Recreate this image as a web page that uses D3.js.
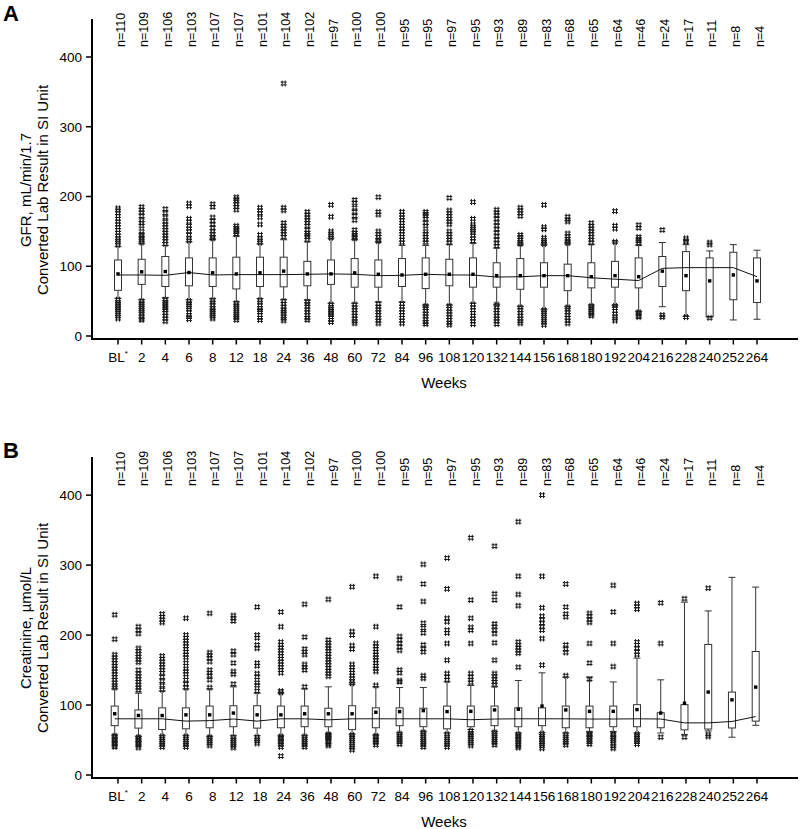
<!DOCTYPE html>
<html>
<head>
<meta charset="utf-8">
<script src="https://cdn.jsdelivr.net/npm/d3@7"></script>
<style>
  html, body { margin: 0; padding: 0; background: #fff; }
  svg { display: block; font-family: "Liberation Sans", Arial, sans-serif; }
</style>
</head>
<body>
<svg id="chart" width="800" height="829"></svg>
<script>
// ---------- data ----------
const weeks = ["BL","2","4","6","8","12","18","24","36","48","60","72","84","96","108","120","132","144","156","168","180","192","204","216","228","240","252","264"];
const nCounts = [110,109,106,103,107,107,101,104,102,97,100,100,95,95,97,95,93,89,83,68,65,64,46,24,17,11,8,4];
const yTicks = [0,100,200,300,400];

// Panel A: GFR
const gfrQ1     = [65.5,74,71,72,71,67.5,71,70.5,72,74,70,70,71,68,72,70,70,67,70,65,69,70,69,71,65,28,52,48];
const gfrMedian = [87.5,87.5,87,91,87.5,88,88,88,88.5,89,88.5,86.5,87,88.5,87.5,87.5,84.5,85,86.5,86.5,83.5,81.5,79.5,97,98,98,98,85];
const gfrQ3     = [109,110,114,112,112,113,113,113,107,109,111,109,111,112,110,112,105,111,105,103,105,107,112,114,121,112,120,112];
const gfrMean   = [89,92,92.5,91,90.6,89,90.6,93,89,89,90.5,88.5,87.5,88.5,88.5,88.5,86.5,86.5,86.5,86.5,85,86.5,85,93,86.5,79,87.5,79];
const gfrLow    = [54,52,55,52,54,49,54,52,52,47,47,49,49,44,44,47,45,42,38,42,44,44,35,42,28,27,23,24];
const gfrHigh   = [128,133,130,135,138,143,132,138,135,140,138,135,130,130,131,133,126,131,131,133,131,135,130,134,131,122,131,123];
const gfrOutliers = [
  [183,180,176,172,168,164,160,156,152,148,144,140,137,134,131, 52,49,46,43,40,37,34,31,28,25],
  [185,181,177,172,166,162,158,150,145,143,140,137,134, 50,47,44,41,38,35,32,28,25,23],
  [182,176,170,164,160,156,152,148,144,140,136,132, 52,49,46,43,40,37,33,29,25,21],
  [190,186,168,164,158,154,150,145,140,137, 50,47,44,41,38,34,30,27,24],
  [189,185,170,165,160,155,150,146,142,140, 51,48,44,40,37,34,31,28,25],
  [199,196,193,189,185,181,158,155,152,149,146, 47,44,41,38,35,32,29,26,23],
  [184,180,176,170,160,145,140,137,134, 51,48,44,40,37,34,30,26,23],
  [362,184,180,162,158,154,150,146,142, 50,46,42,38,35,32,28,25,22],
  [178,174,170,166,162,158,152,148,145,142,138, 49,46,42,38,34,30,26,23],
  [188,171,150,147,144,141, 45,42,39,36,33,30,27,23,20],
  [195,191,184,178,172,166,152,148,145,142,140, 45,41,37,33,29,25,21,18],
  [199,178,174,150,146,142,138,136, 46,42,38,34,30,26,22,18],
  [178,174,170,166,162,158,154,150,146,142,138,134, 46,42,38,34,30,26,22,18],
  [178,175,172,168,162,158,150,146,142,138,134, 43,40,36,32,28,24,20,17],
  [198,180,176,172,168,164,160,150,146,142,138,134, 43,39,35,31,27,23,19,16],
  [192,168,160,157,154,151,148,144,140,136, 45,41,37,33,29,25,21,17],
  [181,177,173,168,163,158,153,148,143,138,133,129, 45,41,37,33,29,25,21,17],
  [184,180,176,172,145,142,138,135,132, 41,37,33,29,25,21,18],
  [188,156,153,141,138,135,132, 37,34,31,28,25,22,19,16],
  [171,167,164,147,143,139,136,133, 41,38,34,30,26,22,18],
  [162,158,154,150,146,142,138,134, 43,40,37,34,31,29],
  [179,158,154,135, 43,40,36,32,28,25,22],
  [159,155,142,139,136,133, 34,32,29,27],
  [152, 30,27],
  [140,137,135, 27],
  [134,131, 26],
  [],
  []
];

// Panel B: Creatinine
const crQ1     = [70.5,67,65,66,67.5,69,67,67.5,69,69,64.8,67.5,70.5,69,66,69,70.5,69,70.5,67.5,67.5,69,69,67.5,64.5,65.7,67.2,77];
const crMedian = [80.3,80.3,80.3,77,77.7,80,77,80.3,80.3,78.8,80.3,80.3,80.3,80.3,80.3,79,80,80.3,80.3,80.3,80,80,80.3,80,74.5,74.5,76.5,83.5];
const crQ3     = [98.5,93,96,96,98.5,99,99,98.5,98.5,95.4,99,96,96,95.4,98.5,98.5,98.5,96,96,98.5,98.5,98.5,100.5,89,100.5,186.6,118.5,176.5];
const crMean   = [87.5,85,85,86,86,88.5,86,86,87.5,87.5,87.5,89.7,90.6,92,90.6,91,93,94,98.5,93,91,91,93.5,88.5,102.6,118.5,107.4,125.6];
const crLow    = [57,55,56,56,55,56,56,56,56,59,58,57,60,62,60,65,62,60,60,60,62,62,60,60,58,63,54,71];
const crHigh   = [123,117,120,123,123,126,117,117,123,126,130,126,125,125,133,128,126,135,146,140,140,133,167,136,247,234.5,282.5,268.6];
const crOutliers = [
  [229,194,172,168,164,160,156,152,148,144,140,136,132,128,125, 56,54,52,50,48,46,44,42,40],
  [212,207,202,181,177,173,169,165,161,150,145,141,137,133,129,125,121, 54,52,50,48,46,44,42,39],
  [230,226,222,218,170,166,162,158,154,150,146,140,134,128,122, 55,52,49,46,43,40],
  [224,200,196,192,188,184,180,176,172,168,160,152,148,144,136,130,125, 55,52,49,46,43,40],
  [231,175,171,167,162,150,146,142,136,125, 54,51,48,45,42],
  [228,224,220,177,172,160,148,144,130, 54,51,48,45,42,39],
  [240,200,196,186,181,160,156,145,140,132,128,120, 54,51,48,45],
  [233,212,190,186,182,178,174,170,166,162,158,154,150,146,120,118, 55,53,51,49,47,45,43,40,27],
  [244,197,180,176,172,158,154,150,126, 55,52,49,46,43,40],
  [251,193,189,185,181,177,173,169,165,161,157,153,149,145,141, 58,57,56,55,54,53,51,49,47,44,42],
  [269,205,200,185,180,158,154,150,146,142,138,134,131, 57,54,51,48,45,42,39,36],
  [284,212,188,184,180,176,172,168,164,160,156,152,148,128, 56,54,52,50,48,46,43],
  [281,240,198,193,188,183,178,150,146,135,133, 59,56,53,50,47,44],
  [301,273,248,217,210,203,186,180,176,142,138, 61,58,55,52,49,46,43,40],
  [310,266,224,219,207,203,188,164,145,140,136, 58,55,52,49,46,43,40],
  [339,250,224,211,207,188,145,140,136,132, 63,60,57,54,51,48,45,42],
  [327,259,250,216,212,207,202,189,164,145,141,137,133,129, 61,58,55,52,49,46,43],
  [362,284,258,242,190,186,182,178,174,154, 58,56,54,52,50,47,44,41,39],
  [400,284,239,227,222,217,212,207,195,157, 59,56,53,50,47,44,41,38],
  [273,240,230,226,186,180,175,142, 58,55,52,49,46,43],
  [231,227,222,218,188,160,137, 59,58,57,55,53,50,47,44],
  [271,233,188,155, 59,57,54,51,48,45,41,38],
  [245,241,237,190,186,181,176,172, 58,56,53,50,47,44],
  [246,188, 54],
  [252, 54],
  [267, 58,55],
  [],
  []
];

// ---------- drawing ----------
const svg = d3.select("#chart");
const yDomain = [-4.3, 454.5];

function drawPanel(cfg) {
  const g = svg.append("g");
  const xAxisX = d3.scalePoint().domain(weeks).range([118, 757]);
  const xMark = d3.scalePoint().domain(weeks).range(cfg.markRange);
  const y = d3.scaleLinear().domain(yDomain).range([cfg.bottom, cfg.top]);
  const leftX = 92, rightX = 798;

  // panel letter
  g.append("text").attr("x", 3).attr("y", cfg.letterY)
    .attr("font-size", 22).attr("font-weight", "bold").text(cfg.letter);

  // y axis ticks + labels
  const yAx = g.append("g");
  yAx.selectAll("line.tk").data(yTicks).join("line")
    .attr("x1", leftX - 6).attr("x2", leftX)
    .attr("y1", d => y(d)).attr("y2", d => y(d))
    .attr("stroke", "#000").attr("stroke-width", 1.5);
  yAx.selectAll("text").data(yTicks).join("text")
    .attr("x", leftX - 10).attr("y", d => y(d)).attr("dy", "0.36em")
    .attr("text-anchor", "end").attr("font-size", 13.5).text(d => d);

  // x ticks + labels
  const xAx = g.append("g");
  xAx.selectAll("line").data(weeks).join("line")
    .attr("x1", d => xAxisX(d)).attr("x2", d => xAxisX(d))
    .attr("y1", cfg.bottom).attr("y2", cfg.bottom + 5.5)
    .attr("stroke", "#000").attr("stroke-width", 1.5);
  const xl = xAx.selectAll("text").data(weeks).join("text")
    .attr("x", d => xAxisX(d)).attr("y", cfg.bottom + 23)
    .attr("text-anchor", "middle").attr("font-size", 13.5);
  xl.each(function(d) {
    const t = d3.select(this);
    if (d === "BL") {
      t.append("tspan").text("BL");
      t.append("tspan").attr("font-size", 8).attr("dy", -6).text("*");
    } else t.text(d);
  });

  // axis lines
  g.append("line").attr("x1", leftX).attr("x2", leftX)
    .attr("y1", cfg.top).attr("y2", cfg.bottom + 1)
    .attr("stroke", "#000").attr("stroke-width", 2);
  g.append("line").attr("x1", leftX - 1).attr("x2", rightX)
    .attr("y1", cfg.bottom).attr("y2", cfg.bottom)
    .attr("stroke", "#000").attr("stroke-width", 2);

  // axis titles
  g.append("text").attr("x", 444).attr("y", cfg.bottom + 48.5)
    .attr("text-anchor", "middle").attr("font-size", 15).text("Weeks");
  const yt = g.append("g").attr("transform", `translate(0,${cfg.titleY})`);
  yt.append("text").attr("transform", "translate(31,0) rotate(-90)")
    .attr("text-anchor", "middle").attr("font-size", 15).text(cfg.title1);
  yt.append("text").attr("transform", "translate(48,0) rotate(-90)")
    .attr("text-anchor", "middle").attr("font-size", 15).text("Converted Lab Result in SI Unit");

  // n labels
  g.append("g").selectAll("text").data(weeks).join("text")
    .attr("transform", (d) => `translate(${xAxisX(d) + 6.5},${cfg.nY}) rotate(-90)`)
    .attr("font-size", 12.5).text((d, i) => "n=" + nCounts[i]);

  // data rows
  const rows = weeks.map((w, i) => ({
    w, q1: cfg.q1[i], med: cfg.med[i], q3: cfg.q3[i], mean: cfg.mean[i],
    lo: cfg.lo[i], hi: cfg.hi[i], out: cfg.out[i]
  }));

  const bw = 7, cw = 7;
  const boxes = g.append("g").selectAll("g").data(rows).join("g");
  // whiskers
  boxes.append("line").attr("x1", d => xMark(d.w)).attr("x2", d => xMark(d.w))
    .attr("y1", d => y(d.q3)).attr("y2", d => y(d.hi))
    .attr("stroke", "#333").attr("stroke-width", 1);
  boxes.append("line").attr("x1", d => xMark(d.w)).attr("x2", d => xMark(d.w))
    .attr("y1", d => y(d.q1)).attr("y2", d => y(d.lo))
    .attr("stroke", "#333").attr("stroke-width", 1);
  boxes.append("line").attr("x1", d => xMark(d.w) - cw / 2).attr("x2", d => xMark(d.w) + cw / 2)
    .attr("y1", d => y(d.hi)).attr("y2", d => y(d.hi))
    .attr("stroke", "#333").attr("stroke-width", 1);
  boxes.append("line").attr("x1", d => xMark(d.w) - cw / 2).attr("x2", d => xMark(d.w) + cw / 2)
    .attr("y1", d => y(d.lo)).attr("y2", d => y(d.lo))
    .attr("stroke", "#333").attr("stroke-width", 1);
  // box
  boxes.append("rect").attr("x", d => xMark(d.w) - bw / 2).attr("width", bw)
    .attr("y", d => y(d.q3)).attr("height", d => y(d.q1) - y(d.q3))
    .attr("fill", "#fff").attr("stroke", "#333").attr("stroke-width", 1);

  // outliers as "#" marks
  const hashPath = "M-1.5,-3V3M1.5,-3V3M-3,-1.4H3M-3,1.4H3";
  const outPts = rows.flatMap(d => d.out.map(v => ({ w: d.w, v })));
  g.append("g").selectAll("path").data(outPts).join("path")
    .attr("transform", d => `translate(${xMark(d.w)},${y(d.v)})`)
    .attr("d", hashPath).attr("fill", "none")
    .attr("stroke", "#1a1a1a").attr("stroke-width", 1);

  // median connecting line
  const line = d3.line().x(d => xMark(d.w)).y(d => y(d.med));
  g.append("path").datum(rows).attr("d", line)
    .attr("fill", "none").attr("stroke", "#111").attr("stroke-width", 1);

  // mean markers
  g.append("g").selectAll("rect").data(rows).join("rect")
    .attr("x", d => xMark(d.w) - 1.7).attr("y", d => y(d.mean) - 1.7)
    .attr("width", 3.4).attr("height", 3.4).attr("fill", "#000");
}

drawPanel({
  letter: "A", letterY: 21, top: 19, bottom: 339, nY: 47, titleY: 190,
  title1: "GFR, mL/min/1.7", markRange: [118, 757],
  q1: gfrQ1, med: gfrMedian, q3: gfrQ3, mean: gfrMean, lo: gfrLow, hi: gfrHigh, out: gfrOutliers
});
drawPanel({
  letter: "B", letterY: 458, top: 457, bottom: 778, nY: 486, titleY: 628,
  title1: "Creatinine, \u00b5mol/L", markRange: [114.7, 755.7],
  q1: crQ1, med: crMedian, q3: crQ3, mean: crMean, lo: crLow, hi: crHigh, out: crOutliers
});
</script>
</body>
</html>
